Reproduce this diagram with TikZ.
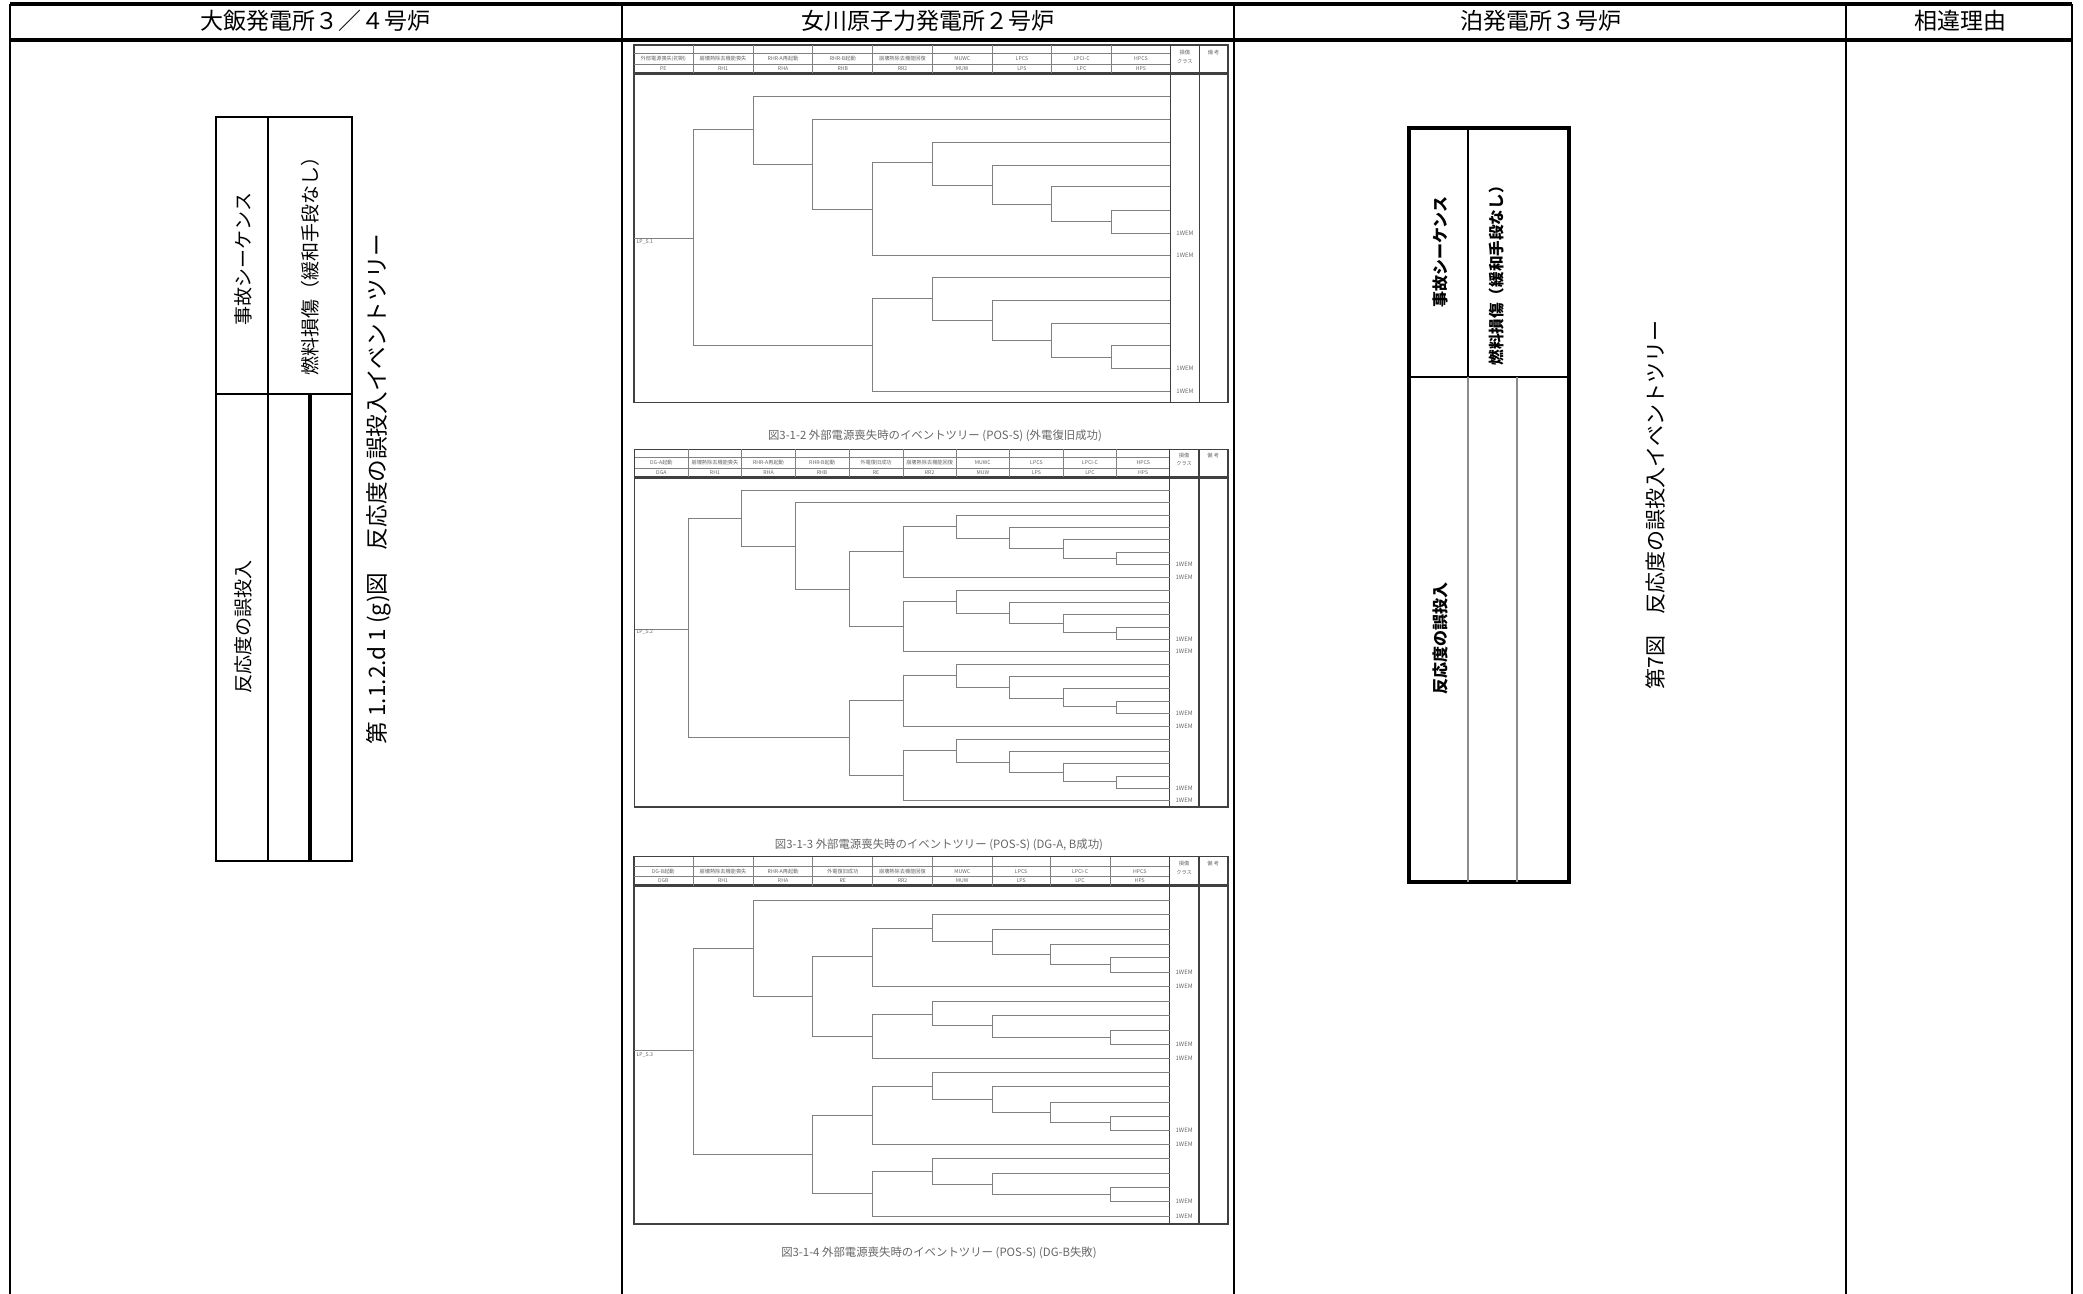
\documentclass[tikz,border=0pt]{standalone}
\usepackage{fontspec}
\setmainfont{Noto Sans CJK JP}
\usepackage{tikz}

\begin{document}
\begin{tikzpicture}[x=0.5pt,y=-0.5pt,
    rule/.style={line width=0.8pt},
    headrule/.style={line width=1.7pt},
    etline/.style={draw=black!50,line width=0.45pt},
    etbox/.style={draw=black!75,line width=0.8pt},
    colhead/.style={font=\fontsize{11.5}{13}\selectfont},
    rotlabel/.style={rotate=90,inner sep=0pt},
    etlab/.style={font=\fontsize{2.6}{3}\selectfont,text=black!60,inner sep=0pt},
    endlab/.style={font=\fontsize{3}{3}\selectfont,text=black!60,inner sep=0pt},
    etcap/.style={font=\fontsize{5.7}{6}\selectfont,text=black!60,inner sep=0pt}]
    \useasboundingbox (0,0) rectangle (2083,1294);

    % table
    \draw[headrule] (10,4) -- (2072,4);
    \draw[headrule] (10,40) -- (2072,40);
    \foreach \cx in {10,622,1234,1846,2072}
        \draw[rule] (\cx,4) -- (\cx,1294);
    \node[colhead] (hOhi) at (315,21) {大飯発電所３／４号炉};
    \node[colhead] (hOnagawa) at (928,21) {女川原子力発電所２号炉};
    \node[colhead] (hTomari) at (1541,21) {泊発電所３号炉};
    \node[colhead] (hReason) at (1960,21) {相違理由};

    % Ohi
    \draw[line width=0.6pt] (216,117) rectangle (352,861);
    \draw[line width=0.6pt] (268,117) -- (268,861) (216,394) -- (352,394);
    \draw[line width=2pt] (310,394) -- (310,861);
    \node[rotlabel,font=\fontsize{9.5}{10}\selectfont] (oSeq) at (243,259) {事故シーケンス};
    \node[rotlabel,font=\fontsize{9.5}{10}\selectfont] (oFuel) at (310,262) {燃料損傷（緩和手段なし）};
    \node[rotlabel,font=\fontsize{9.5}{10}\selectfont] (oInit) at (243,627) {反応度の誤投入};
    \node[rotlabel,font=\fontsize{11.3}{12}\selectfont] (oCap) at (379,489) {第 1.1.2.d 1 (g)図\quad 反応度の誤投入イベントツリー};

    % Tomari
    \draw[line width=2pt] (1409,128) rectangle (1569,882);
    \draw[line width=0.8pt] (1468,128) -- (1468,377) (1409,377) -- (1569,377);
    \draw[line width=1pt,black!45] (1468,377) -- (1468,882) (1517,377) -- (1517,882);
    \node[rotlabel,font=\bfseries\fontsize{8}{9}\selectfont] (tSeq) at (1440,252) {事故シーケンス};
    \node[rotlabel,font=\bfseries\fontsize{7.8}{9}\selectfont] (tFuel) at (1497,272) {燃料損傷（緩和手段なし）};
    \node[rotlabel,font=\bfseries\fontsize{8}{9}\selectfont] (tInit) at (1440,638) {反応度の誤投入};
    \node[rotlabel,font=\fontsize{10.5}{11}\selectfont] (tCap) at (1655,505) {第7図\quad 反応度の誤投入イベントツリー};

    % Onagawa, tree 3-1-2
    \begin{scope}[shift={(630,40)},xscale=0.3827,yscale=0.3333]
        \draw[etbox] (10,15) rectangle (1562,1088);
        \draw[etline] (10,40) -- (1412,40) (10,72) -- (1412,72);
        \draw[etbox,line width=1.3pt] (10,100) -- (1562,100);
        \draw[etbox] (1412,15) -- (1412,1088) (1488,15) -- (1488,1088);
        \foreach \cx in {165,322,478,634,790,946,1102,1258}
            \draw[etline] (\cx,15) -- (\cx,100);
        \foreach \lx/\ta/\tb [count=\i] in {87/外部電源喪失(初期)/PE,243/崩壊熱除去機能喪失/RH1,400/RHR-A再起動/RHA,556/RHR-B起動/RHB,712/崩壊熱除去機能回復/RR2,868/MUWC/MUW,1024/LPCS/LPS,1180/LPCI-C/LPC,1335/HPCS/HPS}{
            \node[etlab] (aHead\i) at (\lx,56) {\ta};
            \node[etlab] (aSub\i) at (\lx,86) {\tb};
        }
        \node[etlab] (aCls) at (1450,37) {損傷};
        \node[etlab] (aCls2) at (1450,64) {クラス};
        \node[etlab] (aNote) at (1525,37) {備 考};
        \draw[etline] (10,595) -- (165,595);
        \node[etlab,anchor=west] (aInit) at (16,605) {LP\_S.1};
        \foreach \bx/\ya/\yb/\xa/\xb in {165/268/915/322/634,322/170/372/1412/478,478/237/507/1412/634,
            634/368/647/790/1412,790/306/435/1412/946,946/376/494/1412/1102,1102/440/545/1412/1258,1258/510/580/1412/1412,
            634/775/1054/790/1412,790/712/842/1412/946,946/780/901/1412/1102,1102/850/953/1412/1258,1258/916/985/1412/1412}
            \draw[etline] (\xa,\ya) -- (\bx,\ya) -- (\bx,\yb) -- (\xb,\yb);
        \foreach \ly [count=\i] in {580,647,985,1054}
            \node[endlab] (aEnd\i) at (1450,\ly) {1WEM};
    \end{scope}
    \node[etcap] (aCap) at (935,436) {図3-1-2 外部電源喪失時のイベントツリー (POS-S) (外電復旧成功)};

    % Onagawa, tree 3-1-3
    \begin{scope}[shift={(630,420)},xscale=0.3827,yscale=0.3333]
        \draw[etbox] (12,88) rectangle (1562,1162);
        \draw[etline] (12,112) -- (1410,112) (12,145) -- (1410,145);
        \draw[etbox,line width=1.3pt] (12,172) -- (1562,172);
        \draw[etbox] (1410,88) -- (1410,1162) (1487,88) -- (1487,1162);
        \foreach \cx in {152,292,432,573,714,852,992,1132,1272}
            \draw[etline] (\cx,88) -- (\cx,172);
        \foreach \lx/\ta/\tb [count=\i] in {82/DG-A起動/DGA,222/崩壊熱除去機能喪失/RH1,362/RHR-A再起動/RHA,502/RHR-B起動/RHB,643/外電復旧成功/RE,783/崩壊熱除去機能回復/RR2,922/MUWC/MUW,1062/LPCS/LPS,1202/LPCI-C/LPC,1341/HPCS/HPS}{
            \node[etlab] (bHead\i) at (\lx,128) {\ta};
            \node[etlab] (bSub\i) at (\lx,158) {\tb};
        }
        \node[etlab] (bCls) at (1448,106) {損傷};
        \node[etlab] (bCls2) at (1448,130) {クラス};
        \node[etlab] (bNote) at (1524,106) {備 考};
        \draw[etline] (12,627) -- (152,627);
        \node[etlab,anchor=west] (bInit) at (16,637) {LP\_S.2};
        \foreach \bx/\ya/\yb/\xa/\xb in {152/295/953/292/573,292/210/380/1410/432,432/247/507/1410/573,573/395/620/714/714,
            714/320/471/852/1410,852/287/355/1410/992,992/322/385/1410/1132,1132/359/414/1410/1272,1272/398/434/1410/1410,
            714/545/695/852/1410,852/512/580/1410/992,992/547/610/1410/1132,1132/583/637/1410/1272,1272/622/658/1410/1410,
            573/842/1066/714/714,
            714/767/918/852/1410,852/733/802/1410/992,992/769/835/1410/1132,1132/806/860/1410/1272,1272/845/880/1410/1410,
            714/990/1142/852/1410,852/958/1027/1410/992,992/994/1057/1410/1132,1132/1031/1085/1410/1272,1272/1069/1106/1410/1410}
            \draw[etline] (\xa,\ya) -- (\bx,\ya) -- (\bx,\yb) -- (\xb,\yb);
        \foreach \ly [count=\i] in {434,471,658,695,880,918,1106,1142}
            \node[endlab] (bEnd\i) at (1448,\ly) {1WEM};
    \end{scope}
    \node[etcap] (bCap) at (939,845) {図3-1-3 外部電源喪失時のイベントツリー (POS-S) (DG-A, B成功)};

    % Onagawa, tree 3-1-4
    \begin{scope}[shift={(630,840)},xscale=0.3827,yscale=0.3333]
        \draw[etbox] (10,50) rectangle (1562,1152);
        \draw[etline] (10,80) -- (1410,80) (10,108) -- (1410,108);
        \draw[etbox,line width=1.3pt] (10,137) -- (1562,137);
        \draw[etbox] (1410,50) -- (1410,1152) (1487,50) -- (1487,1152);
        \foreach \cx in {165,322,478,634,790,946,1098,1255}
            \draw[etline] (\cx,50) -- (\cx,137);
        \foreach \lx/\ta/\tb [count=\i] in {87/DG-B起動/DGB,243/崩壊熱除去機能喪失/RH1,400/RHR-A再起動/RHA,556/外電復旧成功/RE,712/崩壊熱除去機能回復/RR2,868/MUWC/MUW,1022/LPCS/LPS,1176/LPCI-C/LPC,1332/HPCS/HPS}{
            \node[etlab] (cHead\i) at (\lx,94) {\ta};
            \node[etlab] (cSub\i) at (\lx,122) {\tb};
        }
        \node[etlab] (cCls) at (1448,70) {損傷};
        \node[etlab] (cCls2) at (1448,98) {クラス};
        \node[etlab] (cNote) at (1524,70) {備 考};
        \draw[etline] (10,632) -- (165,632);
        \node[etlab,anchor=west] (cInit) at (16,645) {LP\_S.3};
        \foreach \bx/\ya/\yb/\xa/\xb in {165/325/943/322/478,322/180/468/1410/478,478/350/588/634/634,
            634/265/440/790/1410,790/224/305/1410/946,946/268/343/1410/1098,1098/312/374/1410/1255,1255/353/397/1410/1410,
            634/522/655/790/1410,790/484/557/1410/946,946/527/592/1410/1255,1255/572/612/1410/1410,
            478/825/1060/634/634,
            634/740/912/790/1410,790/698/778/1410/946,946/740/817/1410/1098,1098/786/848/1410/1255,1255/828/870/1410/1410,
            634/993/1128/790/1410,790/955/1032/1410/946,946/1000/1062/1410/1255,1255/1043/1085/1410/1410}
            \draw[etline] (\xa,\ya) -- (\bx,\ya) -- (\bx,\yb) -- (\xb,\yb);
        \foreach \ly [count=\i] in {397,440,612,655,870,912,1085,1128}
            \node[endlab] (cEnd\i) at (1448,\ly) {1WEM};
    \end{scope}
    \node[etcap] (cCap) at (939,1253) {図3-1-4 外部電源喪失時のイベントツリー (POS-S) (DG-B失敗)};
\end{tikzpicture}
\end{document}
